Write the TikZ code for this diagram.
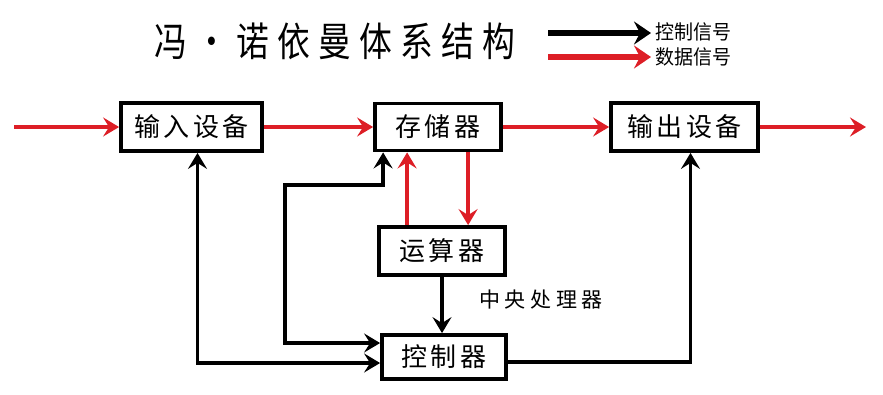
\documentclass[tikz,border=0pt]{standalone}
\usepackage{fontspec}
\newfontfamily\cjk{Noto Sans CJK SC}
\newfontfamily\cjkbox[LetterSpace=12]{Noto Sans CJK SC}
\newfontfamily\cjktitle[LetterSpace=25]{Noto Sans CJK SC}
\newfontfamily\cjkcpu[LetterSpace=22]{Noto Sans CJK SC}
\usetikzlibrary{arrows.meta}
\definecolor{dred}{RGB}{221,30,38}
\tikzset{
  box/.style={draw=black, line width=3.8pt, fill=white, inner sep=0pt,
    font=\cjkbox\fontsize{26}{26}\selectfont},
  ctrl/.style={line width=3.8pt, draw=black, -{Stealth[length=16pt,width=19pt,inset=6pt]}},
  ctrlboth/.style={line width=3.8pt, draw=black, {Stealth[length=16pt,width=19pt,inset=6pt]}-{Stealth[length=16pt,width=19pt,inset=6pt]}},
  data/.style={line width=3.8pt, draw=dred, -{Stealth[length=16pt,width=19pt,inset=6pt]}},
  legctrl/.style={line width=5.5pt, draw=black, -{Stealth[length=17pt,width=23pt,inset=6pt]}},
  legdata/.style={line width=5.5pt, draw=dred, -{Stealth[length=17pt,width=23pt,inset=6pt]}},
  legtext/.style={anchor=west, inner sep=0pt, font=\cjk\fontsize{20}{20}\selectfont},
}
\begin{document}
\begin{tikzpicture}[x=1pt,y=-1pt]
\useasboundingbox (0,0) rectangle (883,394);
\fill[white] (0,0) rectangle (883,394);

% title
\node[inner sep=0pt] (title) at (335,41) {\scalebox{0.82}[1]{\cjktitle\fontsize{40}{40}\selectfont 冯・诺依曼体系结构}};

% legend
\node[legtext] (lc) at (655,32) {\scalebox{0.95}[1]{控制信号}};
\node[legtext] (ld) at (655,57) {\scalebox{0.95}[1]{数据信号}};
\coordinate (lb1) at (548,33);
\coordinate (lb2) at (548,57);
\draw[legctrl] (lb1) -- ([xshift=-4pt]lc.west |- lb1);
\draw[legdata] (lb2) -- ([xshift=-4pt]ld.west |- lb2);

% boxes
\node[box, minimum width=141pt, minimum height=48pt] (in) at (191.5,127) {输入设备};
\node[box, minimum width=126pt, minimum height=47pt] (mem) at (438,127) {存储器};
\node[box, minimum width=147pt, minimum height=48pt] (out) at (684.5,127) {输出设备};
\node[box, minimum width=126pt, minimum height=48pt] (alu) at (442,251) {运算器};
\node[box, minimum width=124pt, minimum height=44pt] (ctl) at (444,357) {控制器};

\node[inner sep=0pt, font=\cjkcpu\fontsize{21}{21}\selectfont] (cpu) at (541,300) {中央处理器};

% data connectors
\coordinate (inL) at (14,127);
\coordinate (outR) at (866,127);
\draw[data] (inL) -- (in.west);
\draw[data] (in.east) -- (mem.west);
\draw[data] (mem.east) -- (out.west);
\draw[data] (out.east) -- (outR);
\draw[data] ([xshift=30pt]alu.north west) -- ([xshift=30pt]alu.north west |- mem.south);
\draw[data] ([xshift=91pt]alu.north west |- mem.south) -- ([xshift=91pt]alu.north west);

% control connectors
\coordinate (j1) at (285,185);
\draw[ctrl] (alu.south) -- (alu.south |- ctl.north);
\draw[ctrlboth] ([yshift=14pt]ctl.west) -| (j1) -| ([xshift=10pt]mem.south west);
\draw[ctrlboth] ([xshift=6pt]in.south) |- ([yshift=-6pt]ctl.west);
\draw[ctrl] ([yshift=-5pt]ctl.east) -| ([xshift=6pt]out.south);
\end{tikzpicture}
\end{document}
